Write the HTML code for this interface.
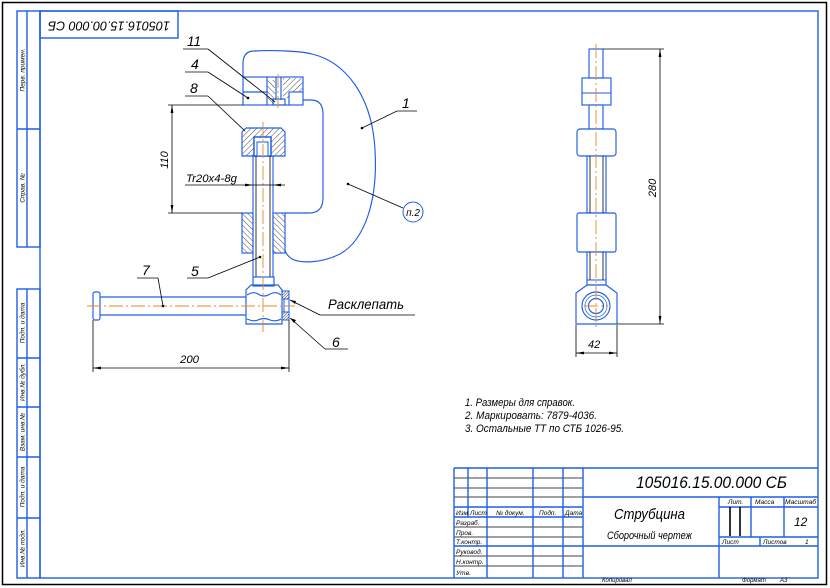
<!DOCTYPE html>
<html><head><meta charset="utf-8"><style>
html,body{margin:0;padding:0;background:#fff;}
svg{display:block;}
text{font-family:"Liberation Sans","DejaVu Sans",sans-serif;font-style:italic;fill:#000;}
</style></head><body>
<svg width="830" height="588" viewBox="0 0 830 588" xmlns="http://www.w3.org/2000/svg">
<defs>
<pattern id="hA" width="4" height="4" patternUnits="userSpaceOnUse" patternTransform="rotate(45)"><line x1="0" y1="0" x2="0" y2="4" stroke="#000" stroke-width="0.7"/></pattern>
<pattern id="hB" width="4" height="4" patternUnits="userSpaceOnUse" patternTransform="rotate(-45)"><line x1="0" y1="0" x2="0" y2="4" stroke="#000" stroke-width="0.7"/></pattern>
<pattern id="hC" width="2" height="2" patternUnits="userSpaceOnUse" patternTransform="rotate(45)"><line x1="0" y1="0" x2="0" y2="2" stroke="#000" stroke-width="0.8"/></pattern>
</defs>
<rect width="830" height="588" fill="#fff"/>

<!-- frames -->
<rect x="2.5" y="2.5" width="824" height="582" fill="none" stroke="#000" stroke-width="1.5"/>
<g fill="none" stroke="#1e5ee6" stroke-width="1.4">
<rect x="40" y="11" width="778" height="567"/>
<rect x="17" y="11" width="23" height="236"/>
<line x1="27" y1="11" x2="27" y2="247"/>
<line x1="17" y1="129" x2="40" y2="129"/>
<rect x="17" y="289" width="23" height="289"/>
<line x1="27" y1="289" x2="27" y2="578"/>
<line x1="17" y1="358" x2="40" y2="358"/>
<line x1="17" y1="407" x2="40" y2="407"/>
<line x1="17" y1="457" x2="40" y2="457"/>
<line x1="17" y1="518" x2="40" y2="518"/>
<rect x="40" y="11" width="138" height="27"/>
</g>
<g font-size="6.5">
<text transform="translate(24.5,70) rotate(-90)" text-anchor="middle">Перв. примен.</text>
<text transform="translate(24.5,188) rotate(-90)" text-anchor="middle">Справ. №</text>
<text transform="translate(24.5,323) rotate(-90)" text-anchor="middle">Подп. и дата</text>
<text transform="translate(24.5,382) rotate(-90)" text-anchor="middle">Инв.№ дубл.</text>
<text transform="translate(24.5,432) rotate(-90)" text-anchor="middle">Взам. инв.№</text>
<text transform="translate(24.5,487) rotate(-90)" text-anchor="middle">Подп. и дата</text>
<text transform="translate(24.5,548) rotate(-90)" text-anchor="middle">Инв.№ подл.</text>
</g>
<text transform="translate(109,25) rotate(180)" text-anchor="middle" dominant-baseline="middle" font-size="13" textLength="122" lengthAdjust="spacingAndGlyphs">105016.15.00.000 СБ</text>

<!-- title block -->
<g stroke="#000" stroke-width="0.8">
<line x1="454" y1="478" x2="583" y2="478"/>
<line x1="454" y1="488" x2="583" y2="488"/>
<line x1="454" y1="497" x2="583" y2="497"/>
<line x1="454" y1="527" x2="583" y2="527"/>
<line x1="454" y1="537" x2="583" y2="537"/>
<line x1="454" y1="556" x2="583" y2="556"/>
<line x1="454" y1="566" x2="583" y2="566"/>
</g>
<g stroke="#1e5ee6" stroke-width="1.4" fill="none">
<line x1="454" y1="468" x2="818" y2="468"/>
<line x1="454" y1="468" x2="454" y2="578"/>
<line x1="454" y1="507" x2="583" y2="507"/>
<line x1="454" y1="517" x2="583" y2="517"/>
<line x1="454" y1="546" x2="818" y2="546"/>
<line x1="468" y1="468" x2="468" y2="517"/>
<line x1="487" y1="468" x2="487" y2="578"/>
<line x1="533" y1="468" x2="533" y2="578"/>
<line x1="563" y1="468" x2="563" y2="578"/>
<line x1="583" y1="468" x2="583" y2="578"/>
<line x1="583" y1="497" x2="818" y2="497"/>
<line x1="719" y1="497" x2="719" y2="578"/>
<line x1="751" y1="497" x2="751" y2="537"/>
<line x1="784" y1="497" x2="784" y2="537"/>
<line x1="719" y1="507" x2="818" y2="507"/>
<line x1="719" y1="537" x2="818" y2="537"/>
<line x1="760" y1="537" x2="760" y2="546"/>
</g>
<g stroke="#000" stroke-width="1.6">
<line x1="730" y1="507" x2="730" y2="536"/>
<line x1="740" y1="507" x2="740" y2="536"/>
</g>
<g font-size="6.5">
<text x="456" y="515">Изм</text>
<text x="470" y="515">Лист</text>
<text x="496" y="515">№ докум.</text>
<text x="539" y="515">Подп.</text>
<text x="565" y="515">Дата</text>
<text x="456" y="525">Разраб.</text>
<text x="456" y="535">Пров.</text>
<text x="456" y="544">Т.контр.</text>
<text x="456" y="554">Руковод.</text>
<text x="456" y="564">Н.контр.</text>
<text x="456" y="575">Утв.</text>
<text x="728" y="504">Лит.</text>
<text x="755" y="504">Масса</text>
<text x="785" y="504" textLength="31" lengthAdjust="spacingAndGlyphs">Масштаб</text>
<text x="722" y="544">Лист</text>
<text x="763" y="544">Листов</text>
<text x="805" y="544">1</text>
</g>
<g font-size="6">
<text x="602" y="582">Копировал</text>
<text x="742" y="582">Формат</text>
<text x="780" y="582">А3</text>
</g>
<text x="636" y="488" font-size="17" textLength="151" lengthAdjust="spacingAndGlyphs">105016.15.00.000 СБ</text>
<text x="614" y="519" font-size="15" textLength="71" lengthAdjust="spacingAndGlyphs">Струбцина</text>
<text x="607" y="539" font-size="11" textLength="85" lengthAdjust="spacingAndGlyphs">Сборочный чертеж</text>
<text x="794" y="526" font-size="12">12</text>

<!-- notes -->
<g font-size="11">
<text x="465" y="406" textLength="110" lengthAdjust="spacingAndGlyphs">1. Размеры для справок.</text>
<text x="465" y="419" textLength="132" lengthAdjust="spacingAndGlyphs">2. Маркировать: 7879-4036.</text>
<text x="465" y="432" textLength="159" lengthAdjust="spacingAndGlyphs">3. Остальные ТТ по СТБ 1026-95.</text>
</g>

<!-- MAIN VIEW -->
<g fill="none" stroke="#1e5ee6" stroke-width="1.15">
<path d="M243,77 L243,62 Q244,51 254,51 C275,50 300,51 312,54 C345,62 372,95 375,150 C378,200 365,240 340,254 C320,264 300,263 292,259 Q286,255 285,250"/>
<path d="M303,100 L311,100 Q323,100 323,114 L323,198 Q323,213 309,213 L285,213"/>
</g>
<polygon points="268,78 303,78 303,92 289,92 289,98 283,98 283,78" fill="url(#hA)"/>
<polygon points="267,80 275,80 275,104 270,104 267,96" fill="url(#hB)"/>
<g fill="none" stroke="#1e5ee6" stroke-width="1.15">
<rect x="243" y="77" width="60" height="28"/>
<line x1="243" y1="92" x2="267" y2="92"/>
<line x1="267" y1="77" x2="267" y2="105"/>
<line x1="289" y1="92" x2="303" y2="92"/>
<line x1="289" y1="92" x2="289" y2="105"/>
<line x1="276" y1="77" x2="276" y2="100"/>
<line x1="281" y1="77" x2="281" y2="100"/>
<rect x="273" y="99" width="12" height="6"/>
</g>
<polygon points="242,132 246,128 281,128 285,132 285,156 242,156" fill="url(#hA)" stroke="#1e5ee6" stroke-width="1.15"/>
<rect x="254" y="137" width="17" height="19" fill="#fff" stroke="#1e5ee6" stroke-width="1.5"/>
<rect x="257" y="142" width="11" height="14" fill="#fff" stroke="#1e5ee6" stroke-width="1"/>
<rect x="242" y="213" width="11" height="40" fill="url(#hB)" stroke="#1e5ee6" stroke-width="1.15"/>
<rect x="273" y="213" width="12" height="40" fill="url(#hB)" stroke="#1e5ee6" stroke-width="1.15"/>
<g stroke-width="1.1" fill="none">
<line x1="253" y1="156" x2="253" y2="277" stroke="#1e5ee6"/>
<line x1="273" y1="156" x2="273" y2="277" stroke="#1e5ee6"/>
<line x1="256" y1="156" x2="256" y2="277" stroke="#000" stroke-width="0.8"/>
<line x1="270" y1="156" x2="270" y2="277" stroke="#000" stroke-width="0.8"/>
</g>
<g fill="none" stroke="#1e5ee6" stroke-width="1.15">
<rect x="253" y="277" width="21" height="9"/>
<polygon points="251,285 278,285 282,290 282,324 246,324 246,290"/>
<path d="M247,295 Q254,291 258,294 Q264,298 270,294 Q276,291 281,295"/>
<path d="M247,319 Q254,322 258,320 Q264,317 270,320 Q276,322 281,319"/>
</g>
<g fill="none" stroke="#1e5ee6" stroke-width="1.15">
<line x1="100" y1="297" x2="246" y2="297"/>
<line x1="100" y1="315" x2="246" y2="315"/>
<rect x="93" y="292" width="7" height="28" rx="2"/>
</g>
<rect x="282" y="291" width="7" height="8" fill="url(#hC)" stroke="#1e5ee6" stroke-width="1"/>
<rect x="282" y="312" width="7" height="8" fill="url(#hC)" stroke="#1e5ee6" stroke-width="1"/>
<rect x="284" y="299" width="5" height="13" fill="none" stroke="#1e5ee6" stroke-width="1"/>
<g stroke="#e58a2a" stroke-width="0.9" stroke-dasharray="14 3 2 3" fill="none">
<line x1="263" y1="122" x2="263" y2="332"/>
<line x1="87" y1="306" x2="295" y2="306"/>
<line x1="278" y1="74" x2="278" y2="108"/>
</g>

<g stroke="#000" stroke-width="0.8" fill="none">
<line x1="168" y1="105" x2="243" y2="105"/>
<line x1="168" y1="213" x2="242" y2="213"/>
<line x1="172" y1="105" x2="172" y2="213"/>
<line x1="185" y1="185" x2="285" y2="185"/>
<line x1="93" y1="320" x2="93" y2="372"/>
<line x1="289" y1="320" x2="289" y2="372"/>
<line x1="93" y1="368" x2="289" y2="368"/>
</g>
<g fill="#000">
<polygon points="172,105 170.6,113 173.4,113"/>
<polygon points="172,213 170.6,205 173.4,205"/>
<polygon points="253,185 245,183.6 245,186.4"/>
<polygon points="273,185 281,183.6 281,186.4"/>
<polygon points="93,368 101,366.6 101,369.4"/>
<polygon points="289,368 281,366.6 281,369.4"/>
</g>
<text transform="translate(168,160) rotate(-90)" text-anchor="middle" font-size="11">110</text>
<text x="186" y="182" font-size="11" textLength="51" lengthAdjust="spacingAndGlyphs">Tr20x4-8g</text>
<text x="180" y="363" font-size="11" textLength="19" lengthAdjust="spacingAndGlyphs">200</text>

<g stroke="#000" stroke-width="0.8" fill="none">
<line x1="183" y1="49" x2="208" y2="49"/><line x1="208" y1="49" x2="275" y2="102"/>
<line x1="185" y1="72" x2="208" y2="72"/><line x1="208" y1="72" x2="248" y2="98"/>
<line x1="185" y1="96" x2="208" y2="96"/><line x1="208" y1="96" x2="245" y2="131"/>
<line x1="397" y1="111" x2="417" y2="111"/><line x1="397" y1="111" x2="362" y2="128"/>
<line x1="403" y1="208" x2="348" y2="184"/>
<line x1="137" y1="278" x2="158" y2="278"/><line x1="158" y1="278" x2="163" y2="306"/>
<line x1="187" y1="278" x2="208" y2="278"/><line x1="208" y1="278" x2="260" y2="257"/>
<line x1="320" y1="315" x2="415" y2="315"/><line x1="320" y1="315" x2="290" y2="300"/>
<line x1="325" y1="349" x2="348" y2="349"/><line x1="325" y1="349" x2="290" y2="318"/>
</g>
<circle cx="413" cy="212" r="10" fill="none" stroke="#1e5ee6" stroke-width="1"/>
<g fill="#000">
<circle cx="248" cy="98" r="1.3"/><circle cx="362" cy="128" r="1.3"/><circle cx="348" cy="184" r="1.3"/>
<circle cx="163" cy="306" r="1.3"/><circle cx="260" cy="257" r="1.3"/>
<polygon points="290,300 296,301 295,304"/><polygon points="290,318 294,323 296,320"/>
</g>
<g font-size="14">
<text x="187" y="46" textLength="14" lengthAdjust="spacingAndGlyphs">11</text>
<text x="191" y="69">4</text>
<text x="190" y="93">8</text>
<text x="402" y="108">1</text>
<text x="142" y="275">7</text>
<text x="191" y="276">5</text>
<text x="332" y="347">6</text>
<text x="328" y="309" textLength="76" lengthAdjust="spacingAndGlyphs">Расклепать</text>
</g>
<text x="413" y="216" font-size="10" text-anchor="middle">п.2</text>

<!-- RIGHT VIEW -->
<g fill="#fff" stroke="#1e5ee6" stroke-width="1.15">
<rect x="589" y="49" width="14" height="29"/>
<rect x="582" y="78" width="29" height="27"/>
<rect x="589" y="105" width="14" height="24"/>
<rect x="577" y="129" width="39" height="27" rx="3"/>
<rect x="587" y="156" width="19" height="57"/>
<rect x="577" y="213" width="39" height="39" rx="2"/>
<rect x="587" y="252" width="19" height="33"/>
<polygon points="587,285 606,285 617,293 617,324 576,324 576,293"/>
<circle cx="596" cy="306" r="14" fill="none"/>
<circle cx="596" cy="306" r="11" fill="none" stroke-width="0.7"/>
<circle cx="596" cy="306" r="7.5" fill="none"/>
</g>
<g stroke="#1e5ee6" stroke-width="1">
<line x1="582" y1="93" x2="611" y2="93"/>
<line x1="587" y1="280" x2="606" y2="280"/>
</g>
<g stroke="#000" stroke-width="0.8">
<line x1="590" y1="156" x2="590" y2="213"/>
<line x1="603" y1="156" x2="603" y2="213"/>
<line x1="590" y1="252" x2="590" y2="280"/>
<line x1="603" y1="252" x2="603" y2="280"/>
</g>
<g stroke="#e58a2a" stroke-width="0.9" stroke-dasharray="14 3 2 3" fill="none">
<line x1="596" y1="44" x2="596" y2="330"/>
<line x1="584" y1="306" x2="608" y2="306"/>
</g>
<g stroke="#000" stroke-width="0.8" fill="none">
<line x1="603" y1="49" x2="664" y2="49"/>
<line x1="617" y1="324" x2="664" y2="324"/>
<line x1="660" y1="49" x2="660" y2="324"/>
<line x1="576" y1="325" x2="576" y2="357"/>
<line x1="617" y1="325" x2="617" y2="357"/>
<line x1="576" y1="353" x2="617" y2="353"/>
</g>
<g fill="#000">
<polygon points="660,49 658.6,57 661.4,57"/>
<polygon points="660,324 658.6,316 661.4,316"/>
<polygon points="576,353 584,351.6 584,354.4"/>
<polygon points="617,353 609,351.6 609,354.4"/>
</g>
<text transform="translate(656,188) rotate(-90)" text-anchor="middle" font-size="11">280</text>
<text x="588" y="348" font-size="11">42</text>
</svg>
</body></html>
